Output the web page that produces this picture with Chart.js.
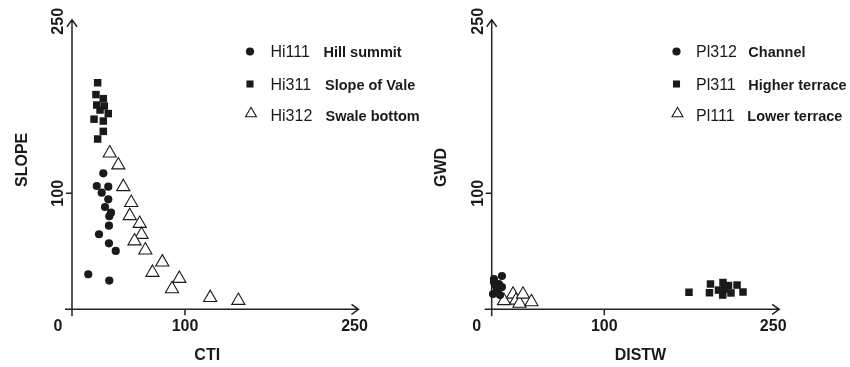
<!DOCTYPE html>
<html>
<head>
<meta charset="utf-8">
<script src="https://cdn.jsdelivr.net/npm/chart.js@4/dist/chart.umd.min.js"></script>
<style>
  html, body { margin: 0; background: #fff; }
  #wrap { position: relative; width: 850px; height: 367px; }
  canvas { position: absolute; top: 0; }
  #c1 { left: 0; }
  #c2 { left: 425px; }
</style>
</head>
<body>
<div id="wrap">
  <canvas id="c1" width="425" height="367"></canvas>
  <canvas id="c2" width="425" height="367"></canvas>
</div>
<script>
const AXIS_MAX = 250;
const xTicks = [0, 100, 250];
const yTicks = [100, 250];

/* ---------- left: CTI vs SLOPE ---------- */
const hi111X = [27.7, 21.9, 32.1, 26.3, 32.1, 29.2, 34.5, 33.0, 32.7, 23.9, 32.7, 38.7, 14.4, 33.0];
const hi111Y = [117.2, 106.3, 105.7, 100.5, 94.8, 88.2, 83.3, 80.2, 72.1, 64.7, 56.9, 50.3, 30.2, 24.8];

const hi311X = [22.7, 21.2, 27.7, 21.9, 28.6, 24.8, 32.1, 19.5, 27.7, 27.7, 22.7];
const hi311Y = [195.3, 185.1, 181.6, 176.1, 175.2, 171.8, 168.7, 163.9, 162.3, 153.4, 146.8];

const hi312X = [33.4, 41.0, 45.4, 52.4, 51.1, 59.9, 61.5, 55.3, 64.9, 79.9, 71.2, 95.0, 88.5, 122.3, 147.2];
const hi312Y = [134.6, 124.3, 105.6, 91.9, 80.6, 73.9, 64.4, 58.8, 51.0, 40.6, 31.7, 26.5, 17.6, 10.0, 7.5];

/* ---------- right: DISTW vs GWD ---------- */
const pl312X = [2.0, 9.1, 2.9, 6.5, 9.1, 1.2, 7.4, 4.7, 2.0];
const pl312Y = [26.1, 28.7, 20.9, 21.8, 19.2, 13.2, 12.3, 17.5, 23.5];

const pl311X = [175.2, 194.3, 193.4, 205.4, 201.4, 205.2, 210.3, 212.5, 217.9, 223.2, 207.2];
const pl311Y = [14.7, 21.8, 14.3, 23.1, 16.6, 12.3, 20.5, 14.1, 20.9, 14.9, 17.5];

const pl111X = [10.9, 18.9, 21.6, 24.7, 27.8, 35.3];
const pl111Y = [7.3, 12.9, 7.7, 5.1, 12.9, 6.4];

const leftCodes  = ['Hi111', 'Hi311', 'Hi312'];
const leftNames  = ['Hill summit', 'Slope of Vale', 'Swale bottom'];
const rightCodes = ['Pl312', 'Pl311', 'Pl111'];
const rightNames = ['Channel', 'Higher terrace', 'Lower terrace'];

const INK = '#1a1a1a';
const FONT = '"Liberation Sans", Arial, sans-serif';

// marker looks: circle, filled square, open triangle
const STYLES = [
    { pointStyle: 'circle',   radius: 4.1, bg: INK,    border: INK, bw: 0 },
    { pointStyle: 'rect',     radius: 5.3, bg: INK,    border: INK, bw: 0 },
    { pointStyle: 'triangle', radius: 7.6, bg: '#fff', border: INK, bw: 1.1 }
];

const pts = (xs, ys) => xs.map((x, i) => ({ x, y: ys[i] }));

function dataset(label, xs, ys, s) {
    return {
        label,
        data: pts(xs, ys),
        pointStyle: s.pointStyle,
        pointRadius: s.radius,
        pointHoverRadius: s.radius,
        backgroundColor: s.bg,
        borderColor: s.border,
        borderWidth: s.bw,
        showLine: false,
        clip: false
    };
}

/* ---------- axes, ticks, titles, legend ---------- */
const decor = {
    id: 'decor',
    beforeDatasetsDraw(chart, args, o) {
        const { ctx, scales: { x, y } } = chart;
        const x0 = x.getPixelForValue(0), y0 = y.getPixelForValue(0);
        const xEnd = x.getPixelForValue(AXIS_MAX) + o.arrowPad;
        const yEnd = y.getPixelForValue(AXIS_MAX) + 0.5;
        ctx.save();
        ctx.strokeStyle = '#222';
        ctx.lineWidth = 1.5;
        ctx.beginPath();
        ctx.moveTo(x0 - 7, y0); ctx.lineTo(xEnd, y0);
        ctx.moveTo(x0, y0 + 7); ctx.lineTo(x0, yEnd);
        // tick marks at 100
        const xt = x.getPixelForValue(100), yt = y.getPixelForValue(100);
        ctx.moveTo(xt, y0); ctx.lineTo(xt, y0 + 6);
        ctx.moveTo(x0, yt); ctx.lineTo(x0 - 6, yt);
        // arrow heads
        ctx.moveTo(xEnd - 7, y0 - 5); ctx.lineTo(xEnd, y0); ctx.lineTo(xEnd - 7, y0 + 5);
        ctx.moveTo(x0 - 5, yEnd + 7); ctx.lineTo(x0, yEnd); ctx.lineTo(x0 + 5, yEnd + 7);
        ctx.stroke();

        // tick labels
        ctx.fillStyle = INK;
        ctx.font = `bold 16px ${FONT}`;
        ctx.textAlign = 'center';
        ctx.textBaseline = 'alphabetic';
        xTicks.forEach(v => {
            const px = x.getPixelForValue(v) + (v === 0 ? o.zeroShift : 0);
            ctx.fillText(String(v), px, y0 + 22);
        });
        yTicks.forEach(v => {
            ctx.save();
            ctx.translate(x0 - 9, y.getPixelForValue(v) + (v === AXIS_MAX ? 2 : 0));
            ctx.rotate(-Math.PI / 2);
            ctx.fillText(String(v), 0, 0);
            ctx.restore();
        });

        // axis titles
        ctx.fillText(o.xTitle, (x0 + x.getPixelForValue(AXIS_MAX)) / 2 + o.xTitleShift, y0 + 51);
        ctx.save();
        ctx.translate(o.yTitleX, 187);
        ctx.rotate(-Math.PI / 2);
        ctx.textAlign = 'left';
        ctx.fillText(o.yTitle, 0, 0);
        ctx.restore();
        ctx.restore();
    },
    afterDraw(chart, args, o) {
        const { ctx } = chart;
        const rows = [57.3, 89.8, 120.6];
        ctx.save();
        o.codes.forEach((code, i) => {
            const s = STYLES[i];
            const my = rows[i] - 5.8 + (i === 2 ? -1.2 : 0);
            ctx.fillStyle = s.bg;
            ctx.strokeStyle = s.border;
            ctx.lineWidth = s.bw;
            const r = i === 2 ? 6.3 : (i === 1 ? 5.0 : 4.1);
            Chart.helpers.drawPoint(ctx, { pointStyle: s.pointStyle, radius: r, rotation: 0, borderWidth: s.bw }, o.markX + (i === 2 ? 1 : 0), my);
            ctx.fillStyle = INK;
            ctx.textAlign = 'left';
            ctx.textBaseline = 'alphabetic';
            ctx.font = `16px ${FONT}`;
            ctx.fillText(code, o.codeX, rows[i]);
            ctx.font = `bold 14.5px ${FONT}`;
            ctx.fillText(o.names[i], o.nameX[i], rows[i]);
        });
        ctx.restore();
    }
};

function makeChart(id, sets, pad, opts) {
    return new Chart(document.getElementById(id), {
        type: 'scatter',
        data: { datasets: sets },
        options: {
            responsive: false,
            animation: false,
            layout: { padding: pad },
            scales: {
                x: { type: 'linear', min: 0, max: AXIS_MAX, display: false },
                y: { type: 'linear', min: 0, max: AXIS_MAX, display: false }
            },
            plugins: {
                legend: { display: false },
                tooltip: { enabled: false },
                decor: opts
            }
        },
        plugins: [decor]
    });
}

makeChart('c1', [
    dataset(leftCodes[0], hi111X, hi111Y, STYLES[0]),
    dataset(leftCodes[1], hi311X, hi311Y, STYLES[1]),
    dataset(leftCodes[2], hi312X, hi312Y, STYLES[2])
], { left: 72, right: 70.5, top: 19.3, bottom: 57.7 }, {
    xTitle: 'CTI', yTitle: 'SLOPE', yTitleX: 26.7, xTitleShift: -6,
    zeroShift: -14, arrowPad: 4,
    codes: leftCodes, names: leftNames,
    markX: 250, codeX: 270.5, nameX: [323.5, 325, 325.5]
});

makeChart('c2', [
    dataset(rightCodes[0], pl312X, pl312Y, STYLES[0]),
    dataset(rightCodes[1], pl311X, pl311Y, STYLES[1]),
    dataset(rightCodes[2], pl111X, pl111Y, STYLES[2])
], { left: 66.7, right: 76.8, top: 19.3, bottom: 57.7 }, {
    xTitle: 'DISTW', yTitle: 'GWD', yTitleX: 21, xTitleShift: 8,
    zeroShift: -15, arrowPad: 6,
    codes: rightCodes, names: rightNames,
    markX: 251.5, codeX: 271, nameX: [323.3, 323.3, 322.3]
});
</script>
</body>
</html>
